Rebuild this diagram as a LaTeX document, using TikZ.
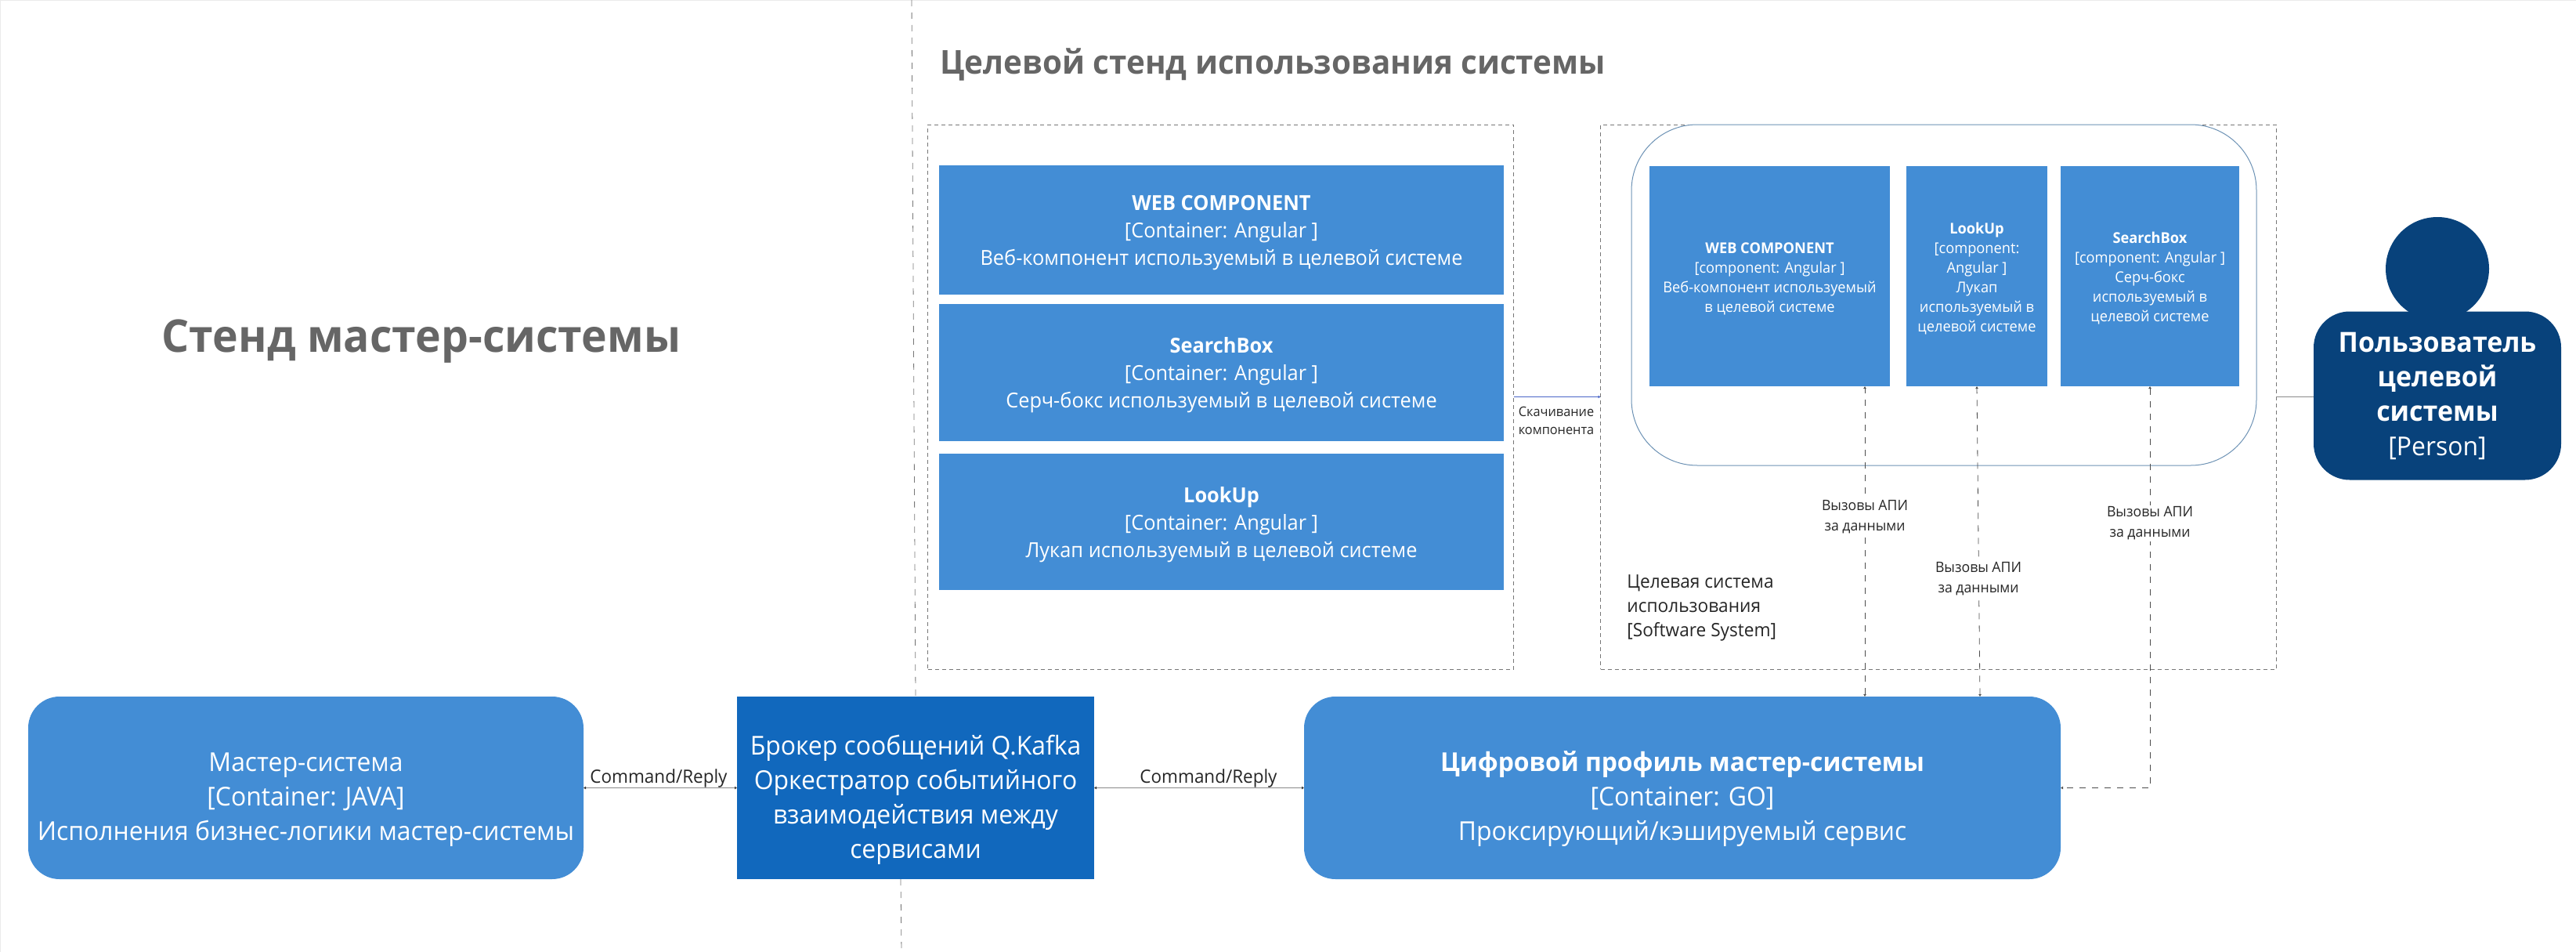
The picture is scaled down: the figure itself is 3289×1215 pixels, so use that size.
\documentclass[tikz,border=0pt]{standalone}
\usepackage{fontspec}
\setmainfont[FakeStretch=0.96]{Open Sans}
\usetikzlibrary{arrows.meta,calc}
\definecolor{cblue}{HTML}{438DD5}
\definecolor{cbroker}{HTML}{1168BD}
\definecolor{cperson}{HTML}{08427B}
\definecolor{ctitle}{HTML}{666666}
\definecolor{cdash}{HTML}{777777}
\definecolor{crel}{HTML}{8A8A8A}
\definecolor{cdl}{HTML}{4A66C8}
\newcommand\lift[1]{\rule{0pt}{#1pt}}
\tikzset{
  x=0.5pt,y=-0.5pt,
  blockbox/.style={fill=cblue,text=white,align=center,inner sep=0pt,outer sep=0pt},
  bigtext/.style={font=\fontsize{16.6}{22}\selectfont},
  midtext/.style={font=\fontsize{13.2}{17.4}\selectfont},
  smalltext/.style={font=\fontsize{9.5}{12.5}\selectfont},
  labeltext/.style={font=\fontsize{9.2}{12.9}\selectfont,align=center,fill=white,inner sep=1pt,text=black!85},
  roundbox/.style={blockbox,rounded corners=20pt},
  boundary/.style={draw=cdash,dash pattern=on 2.5pt off 2pt,line width=0.4pt},
  sep/.style={draw=cdash,dash pattern=on 4pt off 4pt,line width=0.4pt},
  rel/.style={draw=crel,line width=0.8pt,{Latex[length=1.5pt,width=2pt,black!80]}-{Latex[length=1.5pt,width=2pt,black!80]}},
  dl/.style={draw=cdl,line width=0.8pt,-{Latex[length=1.5pt,width=2pt]}},
  plain/.style={draw=crel,line width=0.8pt},
  call/.style={draw=black!70,dash pattern=on 4pt off 4pt,line width=0.4pt,{Latex[length=1.5pt,width=2pt]}-{Latex[length=1.5pt,width=2pt]}},
  headline/.style={text=ctitle,font=\fontsize{21}{26}\selectfont\bfseries,inner sep=0pt}
}
\begin{document}
\begin{tikzpicture}
\useasboundingbox (0,0) rectangle (3289,1215);
\coordinate (frameTL) at (0.5,0.5);
\draw[black!8,line width=0.5pt] (0.5,1215) -- (frameTL) -- (3289,0.5);
% boundaries
\node[boundary,minimum width=374pt,minimum height=347.5pt,inner sep=0pt,outer sep=0pt] (stand1) at (1558.5,506.5) {};
\node[boundary,minimum width=431.25pt,minimum height=347.5pt,inner sep=0pt,outer sep=0pt] (stand2) at (2474.75,506.5) {};
% headings
\node[headline,font=\fontsize{28.8}{32}\selectfont\bfseries] (t1) at (538,436) {Стенд мастер-системы};
\node[headline,anchor=west] (t2) at (1200,82) {Целевой стенд использования системы};
% rounded system
\node[draw=cblue!70!black!70,line width=0.5pt,fill=white,rounded corners=42pt,minimum width=399pt,minimum height=217.5pt,inner sep=0pt,outer sep=0pt] (sys) at (2482,376.5) {};
% containers
\node[blockbox,midtext,minimum width=360.5pt,minimum height=82.5pt] (web) at (1559.5,293.5) {\lift{13.4}\textbf{WEB COMPONENT}\\{[Container: Angular ]}\\Веб-компонент используемый в целевой системе};
\node[blockbox,midtext,minimum width=360.5pt,minimum height=87.5pt] (search) at (1559.5,475.5) {\lift{13.4}\textbf{SearchBox}\\{[Container: Angular ]}\\Серч-бокс используемый в целевой системе};
\node[blockbox,midtext,minimum width=360.5pt,minimum height=87pt] (look) at (1559.5,666) {\lift{13.4}\textbf{LookUp}\\{[Container: Angular ]}\\Лукап используемый в целевой системе};
% components
\node[blockbox,smalltext,minimum width=153.5pt,minimum height=140.5pt] (comp1) at (2259.5,352.5) {\lift{10}\textbf{WEB COMPONENT}\\{[component: Angular ]}\\Веб-компонент используемый\\в целевой системе};
\node[blockbox,smalltext,minimum width=90pt,minimum height=140.5pt] (comp2) at (2524,352.5) {\lift{10}\textbf{LookUp}\\{[component:}\\Angular ]\\Лукап\\используемый в\\целевой системе};
\node[blockbox,smalltext,minimum width=114pt,minimum height=140.5pt] (comp3) at (2745,352.5) {\lift{10}\textbf{SearchBox}\\{[component: Angular ]}\\Серч-бокс\\используемый в\\целевой системе};
% system caption
\node[anchor=west,align=left,inner sep=0pt,text=black!85,font=\fontsize{11.8}{15.5}\selectfont] (syscap) at (2077,776) {Целевая система\\использования\\{[Software System]}};
% person
\node[fill=cperson,circle,minimum size=66pt,inner sep=0pt,outer sep=0pt] (head) at (3112,343) {};
\node[roundbox,bigtext,fill=cperson,rounded corners=23pt,minimum width=158pt,minimum height=107.5pt] (person) at (3112,505) {\fontsize{17.7}{22}\selectfont\textbf{Пользователь}\\\fontsize{17.7}{22}\selectfont\textbf{целевой}\\\fontsize{17.7}{22}\selectfont\textbf{системы}\\\fontsize{16.6}{22}\selectfont{[Person]}};
% bottom row
\node[roundbox,bigtext,minimum width=354.5pt,minimum height=116.5pt] (master) at (390.5,1005.5) {\lift{27}Мастер-система\\{[Container: JAVA]}\\Исполнения бизнес-логики мастер-системы};
\node[blockbox,bigtext,fill=cbroker,minimum width=228pt,minimum height=116.5pt] (broker) at (1169,1005.5) {\lift{28}Брокер сообщений Q.Kafka\\Оркестратор событийного\\взаимодействия между\\сервисами};
\node[roundbox,bigtext,minimum width=483pt,minimum height=116.5pt] (profile) at (2148,1005.5) {\lift{27}\textbf{Цифровой профиль мастер-системы}\\{[Container: GO]}\\Проксирующий/кэшируемый сервис};
% free ends
\coordinate (septop) at (1164,0);
\coordinate (sepbot) at (1151,1215);
\coordinate (a1s) at (2381,493);
\coordinate (a1e) at (2381,889);
\coordinate (a2s) at (2524,493);
\coordinate (a2e) at (2528,889);
\coordinate (sepbrk) at (1150,1122);
% connectors
\draw[sep] (septop) -- (broker.north);
\draw[sep] (sepbrk) -- (sepbot);
\draw[rel] (master) -- (broker);
\draw[rel] (broker) -- (profile);
\draw[dl] (stand1.east) -- (stand2.west);
\draw[plain] (person.west |- stand2.east) -- (stand2.east);
\draw[call] (a1e) -- (a1s);
\draw[call] (a2e) -- (a2s);
\draw[call] (comp3.south) |- (profile.east);
% labels
\node[labeltext,fill=none,font=\fontsize{11.7}{14}\selectfont] (l1) at (841,993) {Command/Reply};
\node[labeltext,fill=none,font=\fontsize{11.7}{14}\selectfont] (l2) at (1543,993) {Command/Reply};
\node[labeltext,font=\fontsize{8.5}{11.5}\selectfont,fill=none] (l3) at (1987,536.5) {Скачивание\\компонента};
\node[labeltext] (l4) at (2381,660) {Вызовы АПИ\\за данными};
\node[labeltext] (l5) at (2526,739) {Вызовы АПИ\\за данными};
\node[labeltext] (l6) at (2745,668) {Вызовы АПИ\\за данными};
\end{tikzpicture}
\end{document}
